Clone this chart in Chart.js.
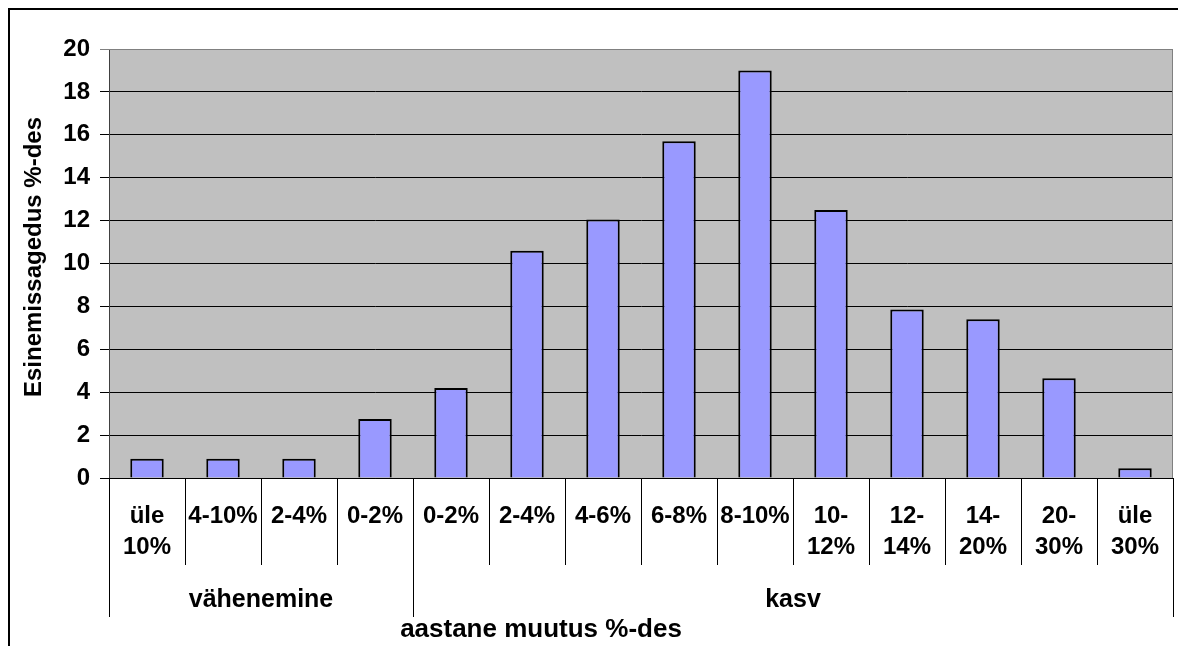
<!DOCTYPE html>
<html>
<head>
<meta charset="utf-8">
<script src="https://cdn.jsdelivr.net/npm/chart.js@4/dist/chart.umd.min.js"></script>
<style>
  html, body { margin: 0; padding: 0; background: #ffffff; }
  #c { display: block; }
</style>
</head>
<body>
<canvas id="c" width="1178" height="646"></canvas>
<script>
const categories = [
  ['üle', '10%'], ['4-10%'], ['2-4%'], ['0-2%'],
  ['0-2%'], ['2-4%'], ['4-6%'], ['6-8%'], ['8-10%'],
  ['10-', '12%'], ['12-', '14%'], ['14-', '20%'], ['20-', '30%'], ['üle', '30%']
];
const values = [0.9, 0.9, 0.9, 2.75, 4.2, 10.6, 12.05, 15.7, 19.0, 12.5, 7.85, 7.4, 4.65, 0.45];
const groupNames = ['vähenemine', 'kasv'];
const groupSizes = [4, 10];
const yTitle = 'Esinemissagedus %-des';
const xTitle = 'aastane muutus %-des';
const yMin = 0, yMax = 20, yStep = 2;

const FONT = '"Liberation Sans", Arial, sans-serif';

const decorPlugin = {
  id: 'decor',
  beforeDraw(chart) {
    const ctx = chart.ctx;
    const a = chart.chartArea;
    ctx.save();
    ctx.fillStyle = '#ffffff';
    ctx.fillRect(0, 0, chart.width, chart.height);
    ctx.fillStyle = '#C0C0C0';
    ctx.fillRect(a.left, a.top, a.right - a.left, a.bottom - a.top);
    ctx.restore();
  },
  afterDraw(chart) {
    const ctx = chart.ctx;
    const a = chart.chartArea;
    const xs = chart.scales.x;
    const n = categories.length;
    const cw = (xs.right - xs.left) / n;
    ctx.save();
    // plot border (top/right) gray
    ctx.strokeStyle = '#808080';
    ctx.lineWidth = 1;
    ctx.beginPath();
    ctx.moveTo(a.left, a.top + 0.5);
    ctx.lineTo(a.right - 0.5, a.top + 0.5);
    ctx.lineTo(a.right - 0.5, a.bottom);
    ctx.stroke();
    // group separators
    ctx.strokeStyle = '#000000';
    let idx = 0;
    const bounds = [0];
    groupSizes.forEach(s => { idx += s; bounds.push(idx); });
    bounds.forEach(b => {
      const px = Math.round(xs.getPixelForValue(b) - cw / 2) + 0.5;
      ctx.beginPath();
      ctx.moveTo(px, a.bottom);
      ctx.lineTo(px, a.bottom + 139);
      ctx.stroke();
    });
    // group labels
    ctx.fillStyle = '#000000';
    ctx.font = 'bold 25px ' + FONT;
    ctx.textAlign = 'center';
    ctx.textBaseline = 'middle';
    let start = 0;
    groupSizes.forEach((s, gi) => {
      const l = xs.getPixelForValue(start) - cw / 2;
      const r = xs.getPixelForValue(start + s - 1) + cw / 2;
      ctx.fillText(groupNames[gi], (l + r) / 2, a.bottom + 122);
      start += s;
    });
    // x title
    ctx.font = 'bold 26px ' + FONT;
    ctx.fillText(xTitle, 541, 630);
    // y title
    ctx.font = 'bold 24px ' + FONT;
    ctx.translate(34, 257);
    ctx.rotate(-Math.PI / 2);
    ctx.fillText(yTitle, 0, 0);
    ctx.restore();
    // outer frame (top and left)
    ctx.save();
    ctx.strokeStyle = '#000000';
    ctx.lineWidth = 2;
    ctx.beginPath();
    ctx.moveTo(9, chart.height + 2);
    ctx.lineTo(9, 9);
    ctx.lineTo(chart.width + 2, 9);
    ctx.stroke();
    ctx.restore();
  }
};

new Chart(document.getElementById('c'), {
  type: 'bar',
  data: {
    labels: categories,
    datasets: [{
      data: values,
      backgroundColor: '#9999FF',
      borderColor: '#000000',
      borderWidth: 2,
      barPercentage: 0.44,
      categoryPercentage: 1.0
    }]
  },
  options: {
    responsive: false,
    devicePixelRatio: 1,
    animation: false,
    layout: { padding: { top: 49, right: 5, bottom: 0, left: 0 } },
    plugins: { legend: { display: false }, tooltip: { enabled: false } },
    scales: {
      x: {
        offset: true,
        afterFit(scale) { scale.height = 168; },
        grid: {
          display: true,
          drawOnChartArea: false,
          drawTicks: true,
          tickLength: 87,
          color: '#000000',
          lineWidth: 1,
          offset: true
        },
        border: { display: true, color: '#000000', width: 1 },
        ticks: {
          color: '#000000',
          font: { family: FONT, size: 24, weight: 'bold', lineHeight: 1.29 },
          padding: -64,
          maxRotation: 0,
          autoSkip: false
        }
      },
      y: {
        min: yMin,
        max: yMax,
        afterFit(scale) { scale.width = 109; },
        grid: {
          color: (c) => (c.tick && c.tick.value === yMax) ? '#808080' : '#000000',
          lineWidth: 1,
          tickLength: 9,
          drawTicks: true
        },
        border: { display: true, color: '#404040', width: 1 },
        ticks: {
          stepSize: yStep,
          color: '#000000',
          padding: 10,
          font: { family: FONT, size: 24, weight: 'bold' }
        }
      }
    }
  },
  plugins: [decorPlugin]
});
</script>
</body>
</html>
